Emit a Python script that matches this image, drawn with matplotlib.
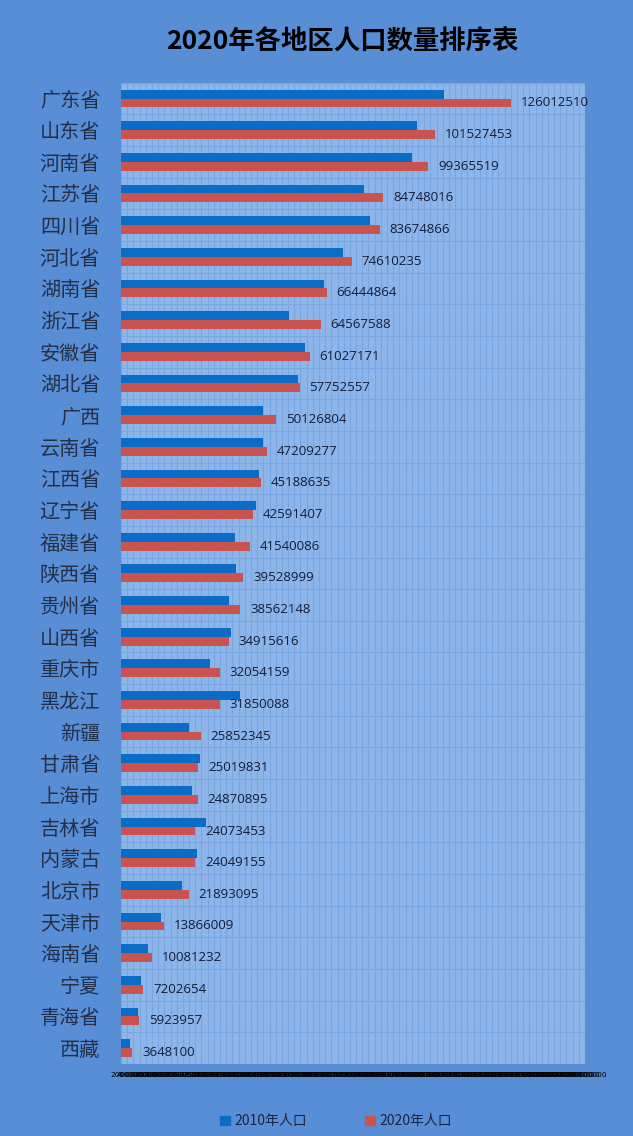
import matplotlib
matplotlib.use('Agg')
import matplotlib.pyplot as plt
from matplotlib.patches import Patch
import numpy as np

plt.rcParams['font.family'] = ['Noto Sans CJK SC', 'DejaVu Sans']

# data
regions = ['广东省', '山东省', '河南省', '江苏省', '四川省', '河北省', '湖南省', '浙江省',
           '安徽省', '湖北省', '广西', '云南省', '江西省', '辽宁省', '福建省', '陕西省',
           '贵州省', '山西省', '重庆市', '黑龙江', '新疆', '甘肃省', '上海市', '吉林省',
           '内蒙古', '北京市', '天津市', '海南省', '宁夏', '青海省', '西藏']
pop_2010 = [104303132, 95793065, 94023567, 78659903, 80418200, 71854202, 65683722, 54426891,
            59500510, 57237740, 46026629, 45966239, 44567475, 43746323, 36894216, 37327378,
            34746468, 35712111, 28846170, 38312224, 21813334, 25575254, 23019148, 27462297,
            24706321, 19612368, 12938224, 8671518, 6301350, 5626722, 3002166]
pop_2020 = [126012510, 101527453, 99365519, 84748016, 83674866, 74610235, 66444864, 64567588,
            61027171, 57752557, 50126804, 47209277, 45188635, 42591407, 41540086, 39528999,
            38562148, 34915616, 32054159, 31850088, 25852345, 25019831, 24870895, 24073453,
            24049155, 21893095, 13866009, 10081232, 7202654, 5923957, 3648100]
x_ticks = list(range(0, 150000001, 2000000))
series_names = ['2010年人口', '2020年人口']

outer_bg = '#588ed6'
plot_bg = '#8db5e9'
grid_col = '#79a5e0'
c2010 = '#0a6cc4'
c2020 = '#c8534f'

fig = plt.figure(figsize=(6.33, 11.36), dpi=100)
fig.patch.set_facecolor(outer_bg)
ax = fig.add_axes([0.1912, 0.0634, 0.733, 0.8638])
ax.set_facecolor(plot_bg)

y = np.arange(len(regions))
h = 0.28
ax.barh(y - h / 2, pop_2010, height=h, color=c2010, zorder=3)
ax.barh(y + h / 2, pop_2020, height=h, color=c2020, zorder=3)

for yi, v in zip(y, pop_2020):
    ax.annotate(str(v), (v, yi + h / 2), xytext=(7, 0), textcoords='offset points',
                va='center', ha='left', fontsize=9.5, color='#141c36',
                family=['Open Sans', 'DejaVu Sans'], zorder=4)

ax.set_xlim(0, 150000000)
ax.set_ylim(len(regions) - 0.5, -0.5)
ax.set_xticks(x_ticks)
ax.set_xticklabels([str(t) for t in x_ticks], fontsize=5.3, color='black',
                   family=['DejaVu Sans'])
ax.set_yticks(y)
ax.set_yticklabels(regions, fontsize=14.5, color='#24304a')
ax.set_yticks(np.arange(len(regions) + 1) - 0.5, minor=True)
ax.tick_params(axis='both', which='both', length=0)
ax.tick_params(axis='y', pad=15)
ax.tick_params(axis='x', pad=6)
ax.grid(axis='x', which='major', color=grid_col, linewidth=0.8, zorder=1)
ax.grid(axis='y', which='minor', color=grid_col, linewidth=0.8, zorder=1)
for s in ax.spines.values():
    s.set_visible(False)

fig.text(0.541, 0.9626, '2020年各地区人口数量排序表', ha='center', va='center',
         fontsize=19, fontweight='bold', color='black')

handles = [Patch(color=c2010), Patch(color=c2020)]
fig.legend(handles, series_names, loc='center', bbox_to_anchor=(0.531, 0.013), ncol=2,
           frameon=False, fontsize=10, handlelength=0.7, handleheight=0.7,
           handletextpad=0.3, columnspacing=4.2, labelcolor='#1b2440')

fig.savefig('out.png', dpi=100, facecolor=outer_bg)
